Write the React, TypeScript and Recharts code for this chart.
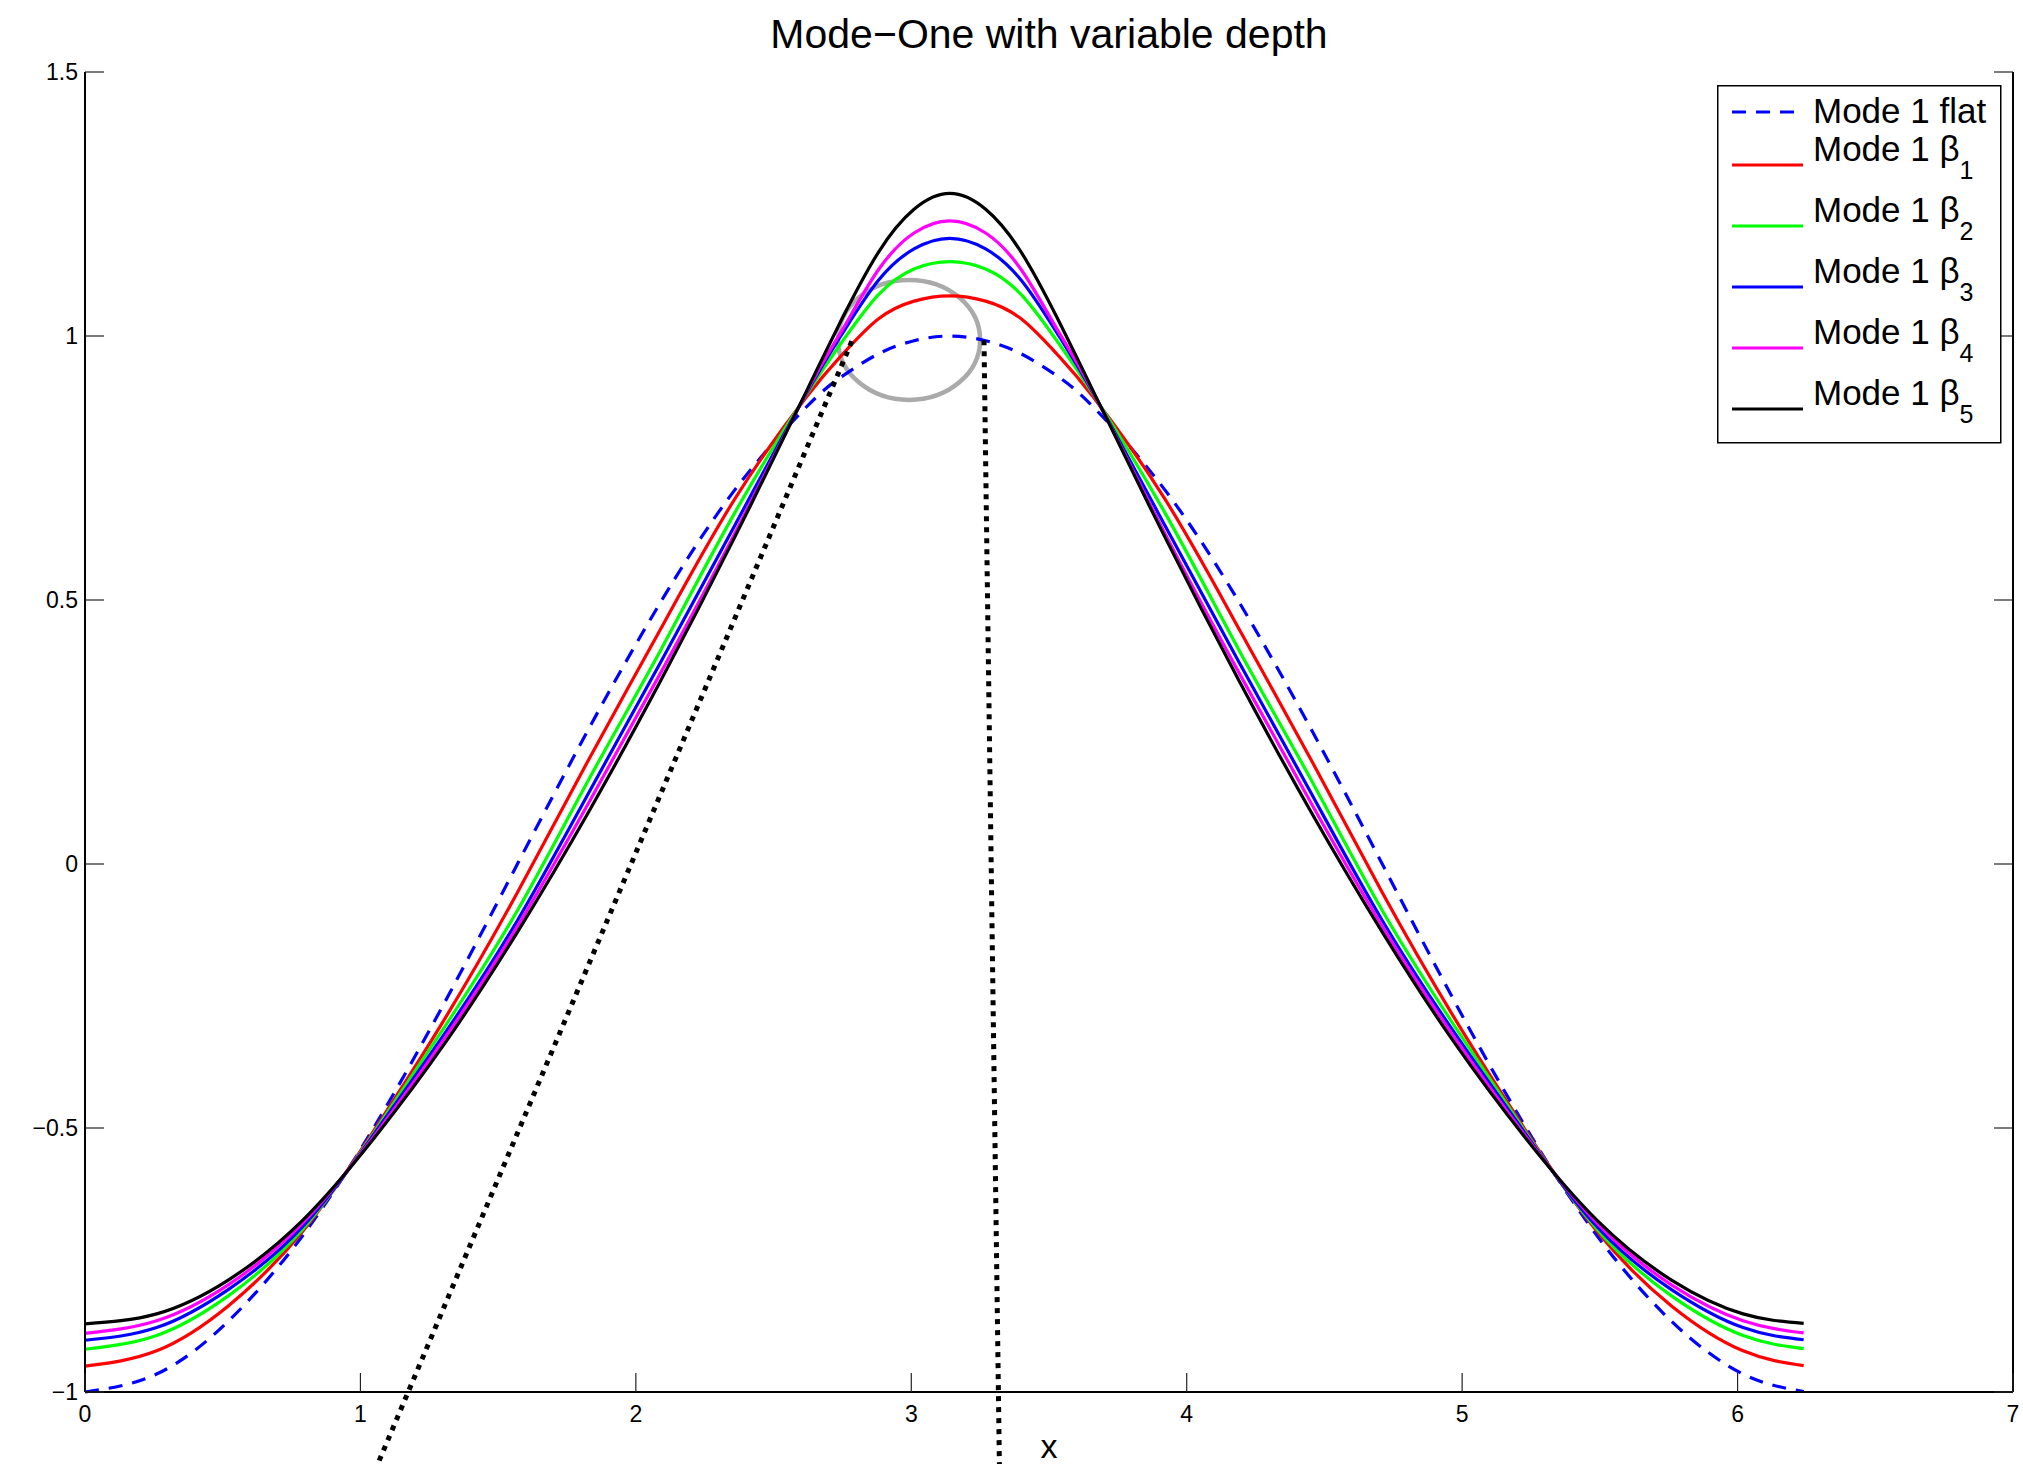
import React from "react";
import {
  LineChart,
  Line,
  XAxis,
  YAxis,
  ReferenceLine,
  ReferenceArea,
  Legend,
} from "recharts";

const xs = [
  0, 0.26, 0.52, 0.79, 1.05, 1.31, 1.57, 1.83, 2.09, 2.36, 2.62, 2.75, 2.88, 3.01, 3.14,
  3.27, 3.4, 3.53, 3.66, 3.92, 4.19, 4.45, 4.71, 4.97, 5.23, 5.49, 5.76, 6.02, 6.24,
];

const flat = [
  -1, -0.966, -0.866, -0.704, -0.498, -0.258, 0, 0.257, 0.496, 0.709, 0.866, 0.924, 0.966, 0.991, 1.0,
  0.991, 0.966, 0.924, 0.866, 0.709, 0.496, 0.257, 0, -0.258, -0.498, -0.704, -0.866, -0.966, -0.999,
];
const beta1 = [
  -0.951, -0.922, -0.837, -0.696, -0.504, -0.29, -0.054, 0.199, 0.445, 0.692, 0.885, 0.965, 1.032, 1.066, 1.076,
  1.066, 1.032, 0.965, 0.885, 0.692, 0.445, 0.199, -0.054, -0.29, -0.504, -0.696, -0.837, -0.922, -0.95,
];
const beta2 = [
  -0.919, -0.893, -0.818, -0.692, -0.508, -0.305, -0.088, 0.161, 0.405, 0.666, 0.89, 0.99, 1.078, 1.127, 1.141,
  1.127, 1.078, 0.99, 0.89, 0.666, 0.405, 0.161, -0.088, -0.305, -0.508, -0.692, -0.818, -0.893, -0.918,
];
const beta3 = [
  -0.902, -0.878, -0.806, -0.687, -0.511, -0.318, -0.107, 0.136, 0.382, 0.642, 0.892, 1.005, 1.105, 1.165, 1.185,
  1.165, 1.105, 1.005, 0.892, 0.642, 0.382, 0.136, -0.107, -0.318, -0.511, -0.687, -0.806, -0.878, -0.901,
];
const beta4 = [
  -0.889, -0.865, -0.797, -0.68, -0.515, -0.327, -0.118, 0.117, 0.362, 0.627, 0.894, 1.012, 1.125, 1.195, 1.218,
  1.195, 1.125, 1.012, 0.894, 0.627, 0.362, 0.117, -0.118, -0.327, -0.515, -0.68, -0.797, -0.865, -0.888,
];
const beta5 = [
  -0.871, -0.852, -0.788, -0.675, -0.519, -0.337, -0.129, 0.1, 0.347, 0.62, 0.896, 1.034, 1.158, 1.24, 1.27,
  1.24, 1.158, 1.034, 0.896, 0.62, 0.347, 0.1, -0.129, -0.337, -0.519, -0.675, -0.788, -0.852, -0.87,
];

const xTicks = [0, 1, 2, 3, 4, 5, 6, 7];
const yTicks = [-1, -0.5, 0, 0.5, 1, 1.5];

// annotations drawn on top of the curves
const dottedA = [{ x: 2.784, y: 0.99 }, { x: 1.06, y: -1.14 }];
const dottedB = [{ x: 3.264, y: 0.992 }, { x: 3.32, y: -1.14 }];
const ring = { x1: 2.734, x2: 3.25, y1: 0.879, y2: 1.106 };

const series = [
  { key: "flat", name: "Mode 1 flat", sub: "", color: "#0000ff", dash: "14 10", values: flat },
  { key: "b1", name: "Mode 1 \u03b2", sub: "1", color: "#ff0000", dash: undefined, values: beta1 },
  { key: "b2", name: "Mode 1 \u03b2", sub: "2", color: "#00ff00", dash: undefined, values: beta2 },
  { key: "b3", name: "Mode 1 \u03b2", sub: "3", color: "#0000ff", dash: undefined, values: beta3 },
  { key: "b4", name: "Mode 1 \u03b2", sub: "4", color: "#ff00ff", dash: undefined, values: beta4 },
  { key: "b5", name: "Mode 1 \u03b2", sub: "5", color: "#000000", dash: undefined, values: beta5 },
];

const data = xs.map((x, i) => {
  const row: any = { x };
  series.forEach((s) => (row[s.key] = s.values[i]));
  return row;
});

const FONT = "'Liberation Sans', Arial, Helvetica, sans-serif";
const TICK = 19;
const TICK_COLOR = "#222";
const LINE_W = 3.2;

function fmt(v: number) {
  return v < 0 ? "\u2212" + Math.abs(v) : String(v);
}

function BottomTick({ x, y, payload }: any) {
  return (
    <g>
      <line x1={x} y1={y} x2={x} y2={y - TICK} stroke={TICK_COLOR} strokeWidth={1.2} />
      <text x={x} y={y + 30} textAnchor="middle" fontSize={23} fontFamily={FONT} fill="#000">
        {fmt(payload.value)}
      </text>
    </g>
  );
}

function TopTick({ x, y }: any) {
  return <line x1={x} y1={y} x2={x} y2={y + TICK} stroke={TICK_COLOR} strokeWidth={1.2} />;
}

function LeftTick({ x, y, payload }: any) {
  return (
    <g>
      <line x1={x} y1={y} x2={x + TICK} y2={y} stroke={TICK_COLOR} strokeWidth={1.2} />
      <text x={x - 7} y={y + 8} textAnchor="end" fontSize={23} fontFamily={FONT} fill="#000">
        {fmt(payload.value)}
      </text>
    </g>
  );
}

function RightTick({ x, y }: any) {
  return <line x1={x} y1={y} x2={x - TICK} y2={y} stroke={TICK_COLOR} strokeWidth={1.2} />;
}

function LegendBox() {
  return (
    <svg width={286} height={360} style={{ display: "block" }}>
      <rect x={0.75} y={0.75} width={283} height={357} fill="#fff" stroke="#000" strokeWidth={1.5} />
      {series.map((s, i) => {
        const ly = i === 0 ? 27 : 80 + 61 * (i - 1);
        const ty = i === 0 ? 38 : ly - 4;
        return (
          <g key={s.key}>
            <line x1={15} y1={ly} x2={86} y2={ly} stroke={s.color} strokeWidth={LINE_W} strokeDasharray={s.dash} />
            <text x={96} y={ty} fontSize={35} fontFamily={FONT} fill="#000">
              {s.name}
              {s.sub && (
                <tspan fontSize={25} dy={18}>
                  {s.sub}
                </tspan>
              )}
            </text>
          </g>
        );
      })}
    </svg>
  );
}

export default function App() {
  const axisLine = { stroke: "#000", strokeWidth: 2 };
  return (
    <div style={{ position: "absolute", left: 0, top: 0, width: 2023, height: 1464, background: "#fff" }}>
      <LineChart width={2023} height={1464} data={data} margin={{ top: 72, right: 0, bottom: 0, left: 0 }}>
        <XAxis
          dataKey="x"
          type="number"
          domain={[0, 7]}
          ticks={xTicks}
          height={72}
          tickSize={0}
          tickMargin={0}
          tickLine={false}
          axisLine={axisLine}
          tick={BottomTick}
          label={{ value: "x", position: "insideBottom", offset: 6, fontSize: 34, fontFamily: FONT, fill: "#000" }}
        />
        <XAxis
          xAxisId="top"
          orientation="top"
          type="number"
          domain={[0, 7]}
          allowDataOverflow
          ticks={xTicks}
          height={0}
          tickSize={0}
          tickMargin={0}
          tickLine={false}
          axisLine={axisLine}
          tick={TopTick}
        />
        <YAxis
          type="number"
          domain={[-1, 1.5]}
          ticks={yTicks}
          width={85}
          tickSize={0}
          tickMargin={0}
          tickLine={false}
          axisLine={axisLine}
          tick={LeftTick}
        />
        <YAxis
          yAxisId="right"
          orientation="right"
          type="number"
          domain={[-1, 1.5]}
          allowDataOverflow
          ticks={yTicks}
          width={10}
          tickSize={0}
          tickMargin={0}
          tickLine={false}
          axisLine={axisLine}
          tick={RightTick}
        />
        {series.map((s) => (
          <Line
            key={s.key}
            dataKey={s.key}
            name={s.name + s.sub}
            type="natural"
            stroke={s.color}
            strokeWidth={LINE_W}
            strokeDasharray={s.dash}
            dot={false}
            activeDot={false}
            isAnimationActive={false}
          />
        ))}
        <ReferenceArea
          x1={ring.x1}
          x2={ring.x2}
          y1={ring.y1}
          y2={ring.y2}
          ifOverflow="visible"
          shape={(p: any) => (
            <ellipse
              cx={p.x + p.width / 2}
              cy={p.y + p.height / 2}
              rx={Math.abs(p.width) / 2}
              ry={Math.abs(p.height) / 2}
              fill="none"
              stroke="#aaaaaa"
              strokeWidth={4.5}
            />
          )}
        />
        <ReferenceLine segment={dottedA} ifOverflow="visible" stroke="#000" strokeWidth={5} strokeDasharray="5 6" />
        <ReferenceLine segment={dottedB} ifOverflow="visible" stroke="#000" strokeWidth={5} strokeDasharray="5 6" />
        <Legend
          layout="vertical"
          align="center"
          verticalAlign="middle"
          content={() => <LegendBox />}
          wrapperStyle={{ left: 1717, top: 85, width: 286, height: 360, right: "auto", bottom: "auto" }}
        />
      </LineChart>
      <div
        style={{
          position: "absolute",
          left: 85,
          top: 14,
          width: 1928,
          textAlign: "center",
          fontFamily: FONT,
          fontSize: 41,
          lineHeight: "41px",
          color: "#000",
        }}
      >
        Mode{"\u2212"}One with variable depth
      </div>
    </div>
  );
}
